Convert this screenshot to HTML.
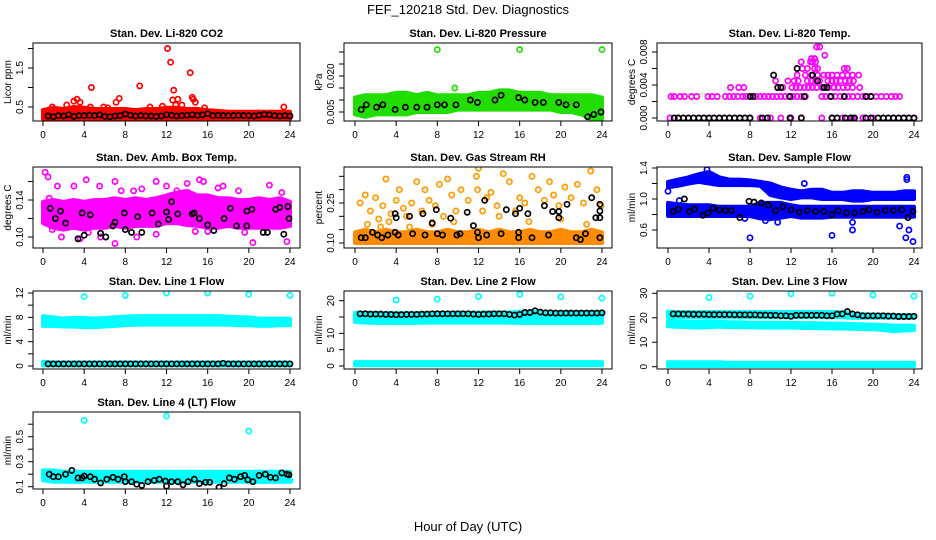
<!DOCTYPE html>
<html><head><meta charset="utf-8"><style>
body{margin:0;background:#fff;}
svg{display:block;font-family:"Liberation Sans",sans-serif;}
</style></head><body>
<svg id="chart" width="936" height="540" viewBox="0 0 936 540">
<rect width="936" height="540" fill="#fff"/>
<text x="468" y="14" text-anchor="middle" font-size="13">FEF_120218  Std. Dev. Diagnostics</text>
<text x="468" y="531" text-anchor="middle" font-size="13">Hour of Day (UTC)</text>
</svg>
<script>
const HOURLY=[0,1,2,3,4,5,6,7,8,9,10,11,12,13,14,15,16,17,18,19,20,21,22,23,24];
const HALF=[0.5,1,1.5,2,2.5,3,3.5,4,4.5,5,5.5,6,6.5,7,7.5,8,8.5,9,9.5,10,10.5,11,11.5,12,12.5,13,13.5,14,14.5,15,15.5,16,16.5,17,17.5,18,18.5,19,19.5,20,20.5,21,21.5,22,22.5,23,23.5,24];
const xTicks=[0,4,8,12,16,20,24];
// CO2
const co2Lo=[0.2,0.2,0.2,0.2,0.2,0.2,0.2,0.2,0.2,0.2,0.2,0.2,0.2,0.2,0.2,0.2,0.2,0.2,0.2,0.2,0.2,0.2,0.2,0.2,0.2];
const co2Hi=[0.42,0.48,0.45,0.5,0.48,0.45,0.45,0.45,0.45,0.42,0.45,0.45,0.48,0.48,0.45,0.45,0.42,0.4,0.38,0.38,0.38,0.38,0.38,0.38,0.38];
const co2OutX=[4.7,9.4,12.1,12.4,14.3,12.7,12.6,13.1,3.3,3.0,3.6,7.4,7.1,14.5,14.6,14.8,2.3,0.9,23.4,5.9,10.4,11.6,13.5,12.9,4.6,6.3,15.7];
const co2OutY=[1.0,1.04,2.0,1.65,1.38,0.93,0.68,0.7,0.7,0.65,0.62,0.72,0.62,0.75,0.7,0.62,0.55,0.5,0.5,0.5,0.5,0.52,0.55,0.55,0.5,0.48,0.48];
const co2Blk=[0.27,0.25,0.28,0.27,0.3,0.26,0.28,0.28,0.29,0.28,0.3,0.26,0.25,0.27,0.28,0.32,0.29,0.27,0.28,0.27,0.27,0.26,0.27,0.3,0.29,0.27,0.28,0.29,0.3,0.29,0.3,0.33,0.28,0.29,0.28,0.28,0.28,0.29,0.28,0.28,0.27,0.29,0.31,0.3,0.28,0.27,0.28,0.27];
// Pressure
const prLo=[0.004,0.003,0.004,0.004,0.004,0.004,0.005,0.005,0.005,0.005,0.006,0.006,0.006,0.006,0.006,0.006,0.006,0.006,0.006,0.006,0.005,0.005,0.004,0.002,0.002];
const prHi=[0.011,0.012,0.012,0.012,0.013,0.013,0.012,0.013,0.012,0.012,0.012,0.012,0.013,0.013,0.014,0.014,0.013,0.013,0.013,0.012,0.012,0.012,0.012,0.012,0.011];
const prOutX=[8,16,24,9.7];
const prOutY=[0.031,0.031,0.031,0.015];
const prBlkX=[0.6,1.1,2.1,2.7,3.9,4.9,6.0,7.0,8.0,8.7,9.8,11.2,11.9,13.6,14.2,15.9,16.5,17.5,18.3,19.8,20.5,21.5,22.6,23.2,23.9];
const prBlkY=[0.006,0.008,0.007,0.008,0.006,0.007,0.007,0.007,0.008,0.008,0.008,0.010,0.009,0.010,0.012,0.011,0.010,0.009,0.009,0.009,0.008,0.008,0.003,0.004,0.005];
// Li-820 temp
const tpX=[0.3,0.6,1.2,1.6,2.3,2.8,3.9,4.3,4.8,5.6,6.0,6.4,6.8,7.3,7.6,8.1,8.6,9,9.4,9.8,10.2,10.6,11,11.4,11.8,12.2,12.6,13,13.4,15,15.4,15.8,16.3,16.8,17.2,17.6,18,18.5,19,19.4,19.8,20.3,20.8,21.3,21.8,22.2,22.6,
6.1,6.9,7.4,10.7,11.2,12.1,12.5,12.9,13.3,13.7,14.1,14.5,15.0,15.3,15.7,16.2,16.6,17.1,17.5,18.0,18.7,
10.5,11.7,12.3,12.7,13.6,14.0,14.4,14.8,15.6,16.0,16.4,16.8,17.3,17.7,18.1,
12.6,13.4,14.0,14.6,15.2,15.6,16.0,16.5,17.0,17.5,18.0,18.6,
13.1,13.6,14.3,14.6,17.2,17.5,13.0,13.9,14.1,14.4,14.0,14.3,14.5,14.8,15.3,
0.2,1,2,3,4,5,6,7,8,9,10,11,12,13,15,16,17,18,19,20,21,22,23,24];
const tpY=[0.0026,0.0026,0.0026,0.0026,0.0026,0.0026,0.0026,0.0026,0.0026,0.0026,0.0026,0.0026,0.0026,0.0026,0.0026,0.0026,0.0026,0.0026,0.0026,0.0026,0.0026,0.0026,0.0026,0.0026,0.0026,0.0026,0.0026,0.0026,0.0026,0.0026,0.0026,0.0026,0.0026,0.0026,0.0026,0.0026,0.0026,0.0026,0.0026,0.0026,0.0026,0.0026,0.0026,0.0026,0.0026,0.0026,0.0026,
0.0037,0.0037,0.0037,0.0037,0.0037,0.0037,0.0037,0.0037,0.0037,0.0037,0.0037,0.0037,0.0037,0.0037,0.0037,0.0037,0.0037,0.0037,0.0037,0.0037,0.0037,
0.0045,0.0045,0.0045,0.0045,0.0045,0.0045,0.0045,0.0045,0.0045,0.0045,0.0045,0.0045,0.0045,0.0045,0.0045,
0.0052,0.0052,0.0052,0.0052,0.0052,0.0052,0.0052,0.0052,0.0052,0.0052,0.0052,0.0052,
0.006,0.006,0.006,0.006,0.006,0.006,0.0068,0.0068,0.0068,0.0068,0.0072,0.0072,0.0086,0.0086,0.0076,
0,0,0,0,0,0,0,0,0,0,0,0,0,0,0,0,0,0,0,0,0,0,0,0];
const tpBlkX=[0.6,1,1.5,2,2.5,3,3.5,4,4.5,5,5.5,6,6.5,7,7.5,8,9.2,9.7,11.9,13,16,16.5,17.3,17.8,18.2,19.3,19.8,20.5,21,21.5,22,22.5,23,23.5,24,8,8.3,11.9,13.3,15.9,17.2,19.3,19.8,10.7,11,15.2,15.5,14.6,10.3,14.1,12.6];
const tpBlkY=[0,0,0,0,0,0,0,0,0,0,0,0,0,0,0,0,0,0,0,0,0,0,0,0,0,0,0,0,0,0,0,0,0,0,0,0.0026,0.0026,0.0026,0.0026,0.0026,0.0026,0.0026,0.0026,0.0037,0.0037,0.0037,0.0037,0.0045,0.0052,0.0052,0.006];
// Amb box temp
const abLo=[0.115,0.11,0.108,0.11,0.108,0.11,0.11,0.112,0.11,0.112,0.112,0.112,0.115,0.115,0.113,0.112,0.11,0.11,0.112,0.11,0.11,0.11,0.11,0.11,0.112];
const abHi=[0.138,0.14,0.138,0.14,0.138,0.14,0.14,0.142,0.14,0.142,0.14,0.142,0.145,0.148,0.15,0.145,0.145,0.142,0.142,0.14,0.14,0.142,0.14,0.142,0.138];
const abOutX=[0.2,0.5,0.6,1.4,3.0,4.2,5.5,7.0,7.6,8.8,9.6,11.0,12.0,13.0,14.0,15.2,15.6,17.0,17.5,19.0,22.0,23.2,1.8,3.6,5.6,7.0,9.1,11.0,16.0,19.6,20.4,23.7,0.9,4.4,14.8];
const abOutY=[0.17,0.165,0.142,0.155,0.155,0.162,0.155,0.16,0.15,0.15,0.152,0.16,0.155,0.15,0.158,0.162,0.16,0.153,0.155,0.15,0.156,0.148,0.1,0.098,0.1,0.093,0.1,0.103,0.106,0.105,0.094,0.095,0.108,0.105,0.106];
const abBlkX=[0.7,1.2,1.7,2.2,3.4,3.8,4.0,4.6,5.6,6.1,6.8,7.0,7.9,8.0,8.6,9.2,9.6,10.6,11.2,12.0,12.2,12.5,13.1,14.5,14.7,15.2,16.0,16.6,17.6,18.2,18.8,19.8,19.8,20.3,21.4,21.8,22.6,23.0,23.4,23.8,23.9];
const abBlkY=[0.131,0.12,0.128,0.115,0.098,0.126,0.102,0.124,0.104,0.1,0.112,0.116,0.126,0.108,0.105,0.122,0.105,0.126,0.114,0.127,0.119,0.138,0.125,0.125,0.126,0.12,0.113,0.107,0.12,0.131,0.112,0.112,0.128,0.13,0.105,0.105,0.13,0.132,0.103,0.133,0.12];
// Gas stream RH
const rhLo=[0.1,0.1,0.1,0.1,0.1,0.1,0.1,0.1,0.1,0.1,0.1,0.1,0.1,0.1,0.1,0.1,0.1,0.1,0.1,0.1,0.1,0.1,0.1,0.1,0.1];
const rhHi=[0.14,0.15,0.14,0.15,0.14,0.14,0.15,0.14,0.14,0.15,0.14,0.14,0.15,0.14,0.15,0.14,0.14,0.15,0.14,0.14,0.15,0.14,0.14,0.15,0.14];
const rhOutX=[0.5,1.0,1.5,2.0,2.3,2.7,3.0,3.5,4.0,4.3,4.7,5.0,5.5,6.0,6.5,6.8,7.2,7.8,8.2,8.6,9.0,9.4,9.8,10.3,11.0,11.8,11.9,12.0,12.4,12.8,13.2,13.8,14.4,15.0,15.6,16.0,16.5,17.2,17.8,18.4,18.9,19.3,19.8,20.4,21.0,21.6,22.2,22.9,23.5,23.9,1.2,3.3,5.3,7.5,9.6,14.0,16.9,20.0,22.5,2.5];
const rhOutY=[0.25,0.28,0.22,0.27,0.19,0.24,0.34,0.21,0.26,0.3,0.23,0.2,0.25,0.33,0.22,0.3,0.26,0.24,0.32,0.2,0.34,0.28,0.22,0.3,0.26,0.35,0.3,0.38,0.22,0.27,0.29,0.24,0.36,0.33,0.22,0.27,0.25,0.35,0.3,0.26,0.33,0.28,0.24,0.31,0.27,0.32,0.25,0.37,0.3,0.24,0.17,0.18,0.16,0.17,0.18,0.2,0.18,0.19,0.17,0.16];
const rhBlkX=[0.6,1.0,1.7,2.2,2.6,3.2,3.9,3.9,4.0,4.2,5.3,5.6,6.6,6.8,7.5,7.9,8.0,8.5,9.3,9.9,10.2,10.9,11.5,11.9,12.0,12.6,12.8,14.2,14.7,15.6,15.9,15.9,16.0,16.8,17.2,18.4,18.8,19.2,19.8,19.8,20.6,21.5,21.9,22.4,23.0,23.8,23.8,23.8,23.8,23.4];
const rhBlkY=[0.12,0.12,0.14,0.13,0.12,0.13,0.14,0.21,0.195,0.13,0.2,0.135,0.21,0.13,0.175,0.225,0.135,0.13,0.193,0.13,0.135,0.215,0.165,0.14,0.12,0.26,0.13,0.135,0.225,0.21,0.14,0.12,0.23,0.21,0.12,0.24,0.13,0.218,0.218,0.195,0.245,0.12,0.113,0.135,0.27,0.245,0.22,0.195,0.12,0.195];
// Sample flow
const sfLo=[0.78,0.78,0.78,0.78,0.78,0.78,0.78,0.78,0.78,0.75,0.74,0.76,0.78,0.76,0.76,0.76,0.77,0.77,0.77,0.77,0.77,0.77,0.77,0.77,0.77];
const sfHi=[0.95,0.93,0.92,0.92,0.92,0.9,0.9,0.9,0.9,0.95,0.95,0.95,0.92,0.9,0.9,0.9,0.9,0.9,0.9,0.9,0.9,0.9,0.9,0.9,0.9];
const sfUpLo=[1.15,1.17,1.2,1.22,1.2,1.18,1.18,1.18,1.18,1.17,1.05,1.02,1.0,1.02,1.02,1.0,1.0,1.0,0.98,0.98,1.0,1.0,1.0,1.0,1.0];
const sfUpHi=[1.22,1.25,1.28,1.32,1.35,1.28,1.25,1.25,1.24,1.22,1.2,1.15,1.12,1.1,1.12,1.12,1.08,1.08,1.1,1.1,1.08,1.08,1.08,1.1,1.1];
const sfOutX=[0.0,8.0,16,18.0,22.6,23.2,23.5,23.9,23.3,23.3,3.8,9.5,10.7,18,7.5,12.3,13.3,1.1];
const sfOutY=[1.1,0.5,0.53,0.6,0.65,0.5,0.6,0.45,1.25,1.28,1.38,0.72,0.7,0.7,0.75,0.8,1.2,0.98];
const sfBlkX=[0.5,1.0,1.6,2.1,2.6,3.4,3.9,4.4,5.0,5.6,6.2,7.0,7.9,8.4,9.1,9.8,10.5,11.2,12.0,12.8,13.6,14.4,15.2,16.0,16.6,17.4,18.2,19.0,19.6,20.4,21.2,22.0,22.8,23.4,23.9];
const sfBlkY=[0.84,0.87,1.0,0.84,0.87,0.79,0.82,0.88,0.86,0.85,0.85,0.76,0.97,0.96,0.95,0.92,0.85,0.9,0.86,0.83,0.85,0.84,0.84,0.8,0.85,0.82,0.82,0.84,0.86,0.83,0.85,0.85,0.86,0.76,0.84];
// Line 1
const l1Lo=[6.6,6.6,6.5,6.5,6.4,6.4,6.5,6.6,6.7,6.8,6.8,6.8,6.8,6.8,6.8,6.8,6.8,6.8,6.8,6.7,6.7,6.6,6.6,6.7,6.7];
const l1Hi=[8.2,8.0,7.8,7.9,7.9,7.8,7.9,8.0,8.1,8.2,8.2,8.2,8.2,8.2,8.2,8.2,8.2,8.2,8.1,8.0,8.0,7.8,7.8,7.8,7.8];
const l1BotLo=[0.1,0.1,0.1,0.1,0.1,0.1,0.1,0.1,0.1,0.1,0.1,0.1,0.1,0.1,0.1,0.1,0.1,0.1,0.1,0.1,0.1,0.1,0.1,0.1,0.1];
const l1BotHi=[0.7,0.6,0.6,0.6,0.6,0.6,0.6,0.6,0.6,0.6,0.6,0.6,0.6,0.6,0.6,0.6,0.6,0.6,0.6,0.6,0.6,0.6,0.6,0.6,0.6];
const l1OutX=[4,8,12,16,20,24];
const l1OutY=[11.4,11.6,12,12,11.8,11.6];
const l1Blk=[0.35,0.35,0.35,0.35,0.35,0.35,0.35,0.35,0.35,0.35,0.35,0.35,0.35,0.35,0.35,0.35,0.35,0.35,0.35,0.35,0.35,0.35,0.35,0.35,0.35,0.35,0.35,0.35,0.35,0.35,0.35,0.35,0.35,0.35,0.45,0.35,0.35,0.35,0.35,0.35,0.35,0.35,0.35,0.35,0.35,0.35,0.35,0.35];
// Line 2
const l2Lo=[13.5,13.3,13.2,13.2,13.2,13.2,13.2,13.3,13.3,13.3,13.3,13.3,13.3,13.3,13.3,13.3,13.2,13.2,13.2,13.2,13.2,13.2,13.2,13.2,13.2];
const l2Hi=[16.3,16.3,16.2,16.2,16.2,16.2,16.2,16.2,16.3,16.3,16.3,16.3,16.4,16.4,16.4,16.4,16.6,16.6,16.6,16.6,16.5,16.5,16.5,16.5,16.5];
const l2BotLo=[0.2,0.2,0.2,0.2,0.2,0.2,0.2,0.2,0.2,0.2,0.2,0.2,0.2,0.2,0.2,0.2,0.2,0.2,0.2,0.2,0.2,0.2,0.2,0.2,0.2];
const l2BotHi=[1.2,1.2,1.2,1.2,1.2,1.2,1.2,1.2,1.2,1.2,1.2,1.2,1.2,1.2,1.2,1.2,1.2,1.2,1.2,1.2,1.2,1.2,1.2,1.2,1.2];
const l2OutX=[4,8,12,16,20,24];
const l2OutY=[20.2,20.5,21.3,22,21.2,20.8];
const l2Blk=[16.0,16.0,15.9,15.9,15.9,15.8,15.8,15.7,15.7,15.8,15.8,15.8,15.9,15.9,16.0,16.0,16.0,16.0,16.0,16.0,16.0,16.0,15.9,15.8,15.9,15.9,16.0,16.0,16.0,15.8,15.6,15.8,16.4,16.4,16.9,16.5,16.3,16.3,16.2,16.2,16.2,16.2,16.2,16.2,16.2,16.2,16.2,16.3];
// Line 3
const l3Lo=[16.5,16.3,16.2,16.0,16.2,16.4,16.2,16.2,16.1,16,16,16,16,15.9,15.8,15.7,15.6,15.6,15.5,15.4,15.3,15.0,14.5,14.8,15.0];
const l3Hi=[18.7,18.5,18.3,18.3,18.5,18.3,18.2,18.2,18.0,18.0,18.0,18.0,18.0,17.8,17.8,17.7,17.6,17.6,17.4,17.3,17.2,17.0,16.8,16.8,16.8];
const l3UpLo=[20.2,20.2,20.2,20.2,20.2,20.2,20.2,20.2,20.2,20.2,20.2,20.2,20.2,20.2,20.2,20.2,20.2,20.2,20.0,20.0,20.0,20.0,20.0,20.0,20.0];
const l3UpHi=[22.5,22.3,22.3,22.3,22.3,22.3,22.3,22.3,22.3,22.3,22.3,22.3,22.3,22.3,22.3,22.3,22.3,22.3,21.5,21.5,21.3,21.3,21.0,21.0,21.0];
const l3BotLo=[0.3,0.3,0.3,0.3,0.3,0.3,0.3,0.3,0.3,0.3,0.3,0.3,0.3,0.3,0.3,0.3,0.3,0.3,0.3,0.3,0.3,0.3,0.3,0.3,0.3];
const l3BotHi=[1.8,1.8,1.8,1.8,1.8,1.8,1.6,1.6,1.6,1.6,1.6,1.6,1.6,1.6,1.6,1.6,1.6,1.6,1.6,1.6,1.6,1.6,1.6,1.6,1.6];
const l3OutX=[4,8,12,16,20,24];
const l3OutY=[28.3,28.8,29.8,30,29.3,28.8];
const l3Blk=[21.6,21.6,21.5,21.5,21.4,21.4,21.4,21.3,21.3,21.3,21.3,21.3,21.2,21.2,21.2,21.2,21.2,21.1,21.1,21.0,21.0,20.8,20.8,20.6,21.0,21.0,21.0,21.0,21.0,21.0,20.8,20.8,21.5,21.6,22.5,21.6,21.2,20.8,20.8,20.8,20.8,20.8,20.7,20.7,20.5,20.5,20.5,20.6];
// Line 4
const l4Lo=[0.15,0.14,0.14,0.14,0.14,0.14,0.14,0.14,0.14,0.14,0.14,0.14,0.14,0.14,0.14,0.14,0.14,0.14,0.14,0.14,0.14,0.14,0.14,0.14,0.14];
const l4Hi=[0.23,0.23,0.22,0.22,0.22,0.22,0.22,0.22,0.22,0.22,0.22,0.22,0.22,0.22,0.22,0.22,0.22,0.22,0.22,0.22,0.22,0.22,0.22,0.22,0.22];
const l4OutX=[4,12,20,24];
const l4OutY=[0.63,0.665,0.545,0.15];
const l4BlkX=[0.6,1.0,1.5,2.2,2.8,3.4,3.8,4.0,4.6,5.0,5.6,6.2,6.8,7.3,7.9,8.0,8.6,9.1,9.6,10.2,10.8,11.3,11.9,12.0,12.5,13.1,13.6,14.1,14.7,15.2,15.8,16.2,17.1,17.6,18.1,18.6,19.2,19.6,19.9,20.4,21.0,21.6,22.1,22.6,23.2,23.7,23.9];
const l4BlkY=[0.2,0.18,0.18,0.2,0.23,0.17,0.17,0.185,0.18,0.16,0.13,0.16,0.175,0.16,0.18,0.14,0.14,0.12,0.11,0.14,0.15,0.16,0.145,0.105,0.14,0.14,0.115,0.14,0.16,0.125,0.135,0.135,0.095,0.125,0.17,0.16,0.18,0.19,0.155,0.14,0.19,0.2,0.175,0.17,0.21,0.2,0.195];

const NS="http://www.w3.org/2000/svg";
const svg=document.getElementById('chart');
const COLS=[{x0:33,x1:300,t0:43,t24:290},{x0:344,x1:612,t0:355,t24:602},{x0:657,x1:922,t0:668,t24:914}];
const ROWS=[{y0:43,y1:121},{y0:167,y1:248},{y0:291,y1:369},{y0:412,y1:489}];
function mk(tag,attrs,parent){const e=document.createElementNS(NS,tag);for(const k in attrs)e.setAttribute(k,attrs[k]);(parent||svg).appendChild(e);return e;}

const panels=[
 {key:'co2',title:'Stan. Dev. Li-820 CO2',yl:'Licor ppm',c:0,r:0,yr:[0.5,107,1.5,68],ticks:[0.5,1,1.5,2],labs:['0.5','','1.5',''],
  bands:[[co2Lo,co2Hi,'#ff0000']],pts:[[co2OutX,co2OutY,'#ff0000'],[HALF,co2Blk,'#000']]},
 {key:'pressure',title:'Stan. Dev. Li-820 Pressure',yl:'kPa',c:1,r:0,yr:[0.005,112,0.020,76],ticks:[0.005,0.010,0.015,0.020,0.025,0.030],labs:['0.005','','','0.020','',''],
  bands:[[prLo,prHi,'#22dd00']],pts:[[prOutX,prOutY,'#22dd00'],[prBlkX,prBlkY,'#000']]},
 {key:'li-temp',title:'Stan. Dev. Li-820 Temp.',yl:'degrees C',c:2,r:0,yr:[0,118,0.008,52],ticks:[0,0.002,0.004,0.006,0.008],labs:['0.000','','0.004','','0.008'],
  bands:[],pts:[[tpX,tpY,'#ff00ff'],[tpBlkX,tpBlkY,'#000']]},
 {key:'amb-temp',title:'Stan. Dev. Amb. Box Temp.',yl:'degrees C',c:0,r:1,yr:[0.10,237,0.14,200],ticks:[0.10,0.12,0.14,0.16],labs:['0.10','','0.14',''],
  bands:[[abLo,abHi,'#ff00ff']],pts:[[abOutX,abOutY,'#ff00ff'],[abBlkX,abBlkY,'#000']]},
 {key:'gas-rh',title:'Stan. Dev. Gas Stream RH',yl:'percent',c:1,r:1,yr:[0.10,243,0.25,203],ticks:[0.10,0.15,0.20,0.25,0.30,0.35],labs:['0.10','','','0.25','',''],
  bands:[[rhLo,rhHi,'#ff8c00']],pts:[[rhOutX,rhOutY,'#ff9a00'],[rhBlkX,rhBlkY,'#000']]},
 {key:'sample-flow',title:'Stan. Dev. Sample Flow',yl:'ml/min',c:2,r:1,yr:[0.6,230,1.4,168],ticks:[0.6,0.8,1.0,1.2,1.4],labs:['0.6','','1.0','','1.4'],
  bands:[[sfLo,sfHi,'#0000ff'],[sfUpLo,sfUpHi,'#0000ff']],pts:[[sfOutX,sfOutY,'#0000ff'],[sfBlkX,sfBlkY,'#000']]},
 {key:'line1',title:'Stan. Dev. Line 1 Flow',yl:'ml/min',c:0,r:2,yr:[0,366,12,293],ticks:[0,2,4,6,8,10,12],labs:['0','','4','','8','','12'],
  bands:[[l1Lo,l1Hi,'#00ffff'],[l1BotLo,l1BotHi,'#00ffff']],pts:[[l1OutX,l1OutY,'#00ffff'],[HALF,l1Blk,'#000']]},
 {key:'line2',title:'Stan. Dev. Line 2 Flow',yl:'ml/min',c:1,r:2,yr:[0,366,20,300.7],ticks:[0,5,10,15,20],labs:['0','5','10','','20'],
  bands:[[l2Lo,l2Hi,'#00ffff'],[l2BotLo,l2BotHi,'#00ffff']],pts:[[l2OutX,l2OutY,'#00ffff'],[HALF,l2Blk,'#000']]},
 {key:'line3',title:'Stan. Dev. Line 3 Flow',yl:'ml/min',c:2,r:2,yr:[0,366.7,30,293.3],ticks:[0,10,20,30],labs:['0','10','20','30'],
  bands:[[l3Lo,l3Hi,'#00ffff'],[l3UpLo,l3UpHi,'#00ffff'],[l3BotLo,l3BotHi,'#00ffff']],pts:[[l3OutX,l3OutY,'#00ffff'],[HALF,l3Blk,'#000']]},
 {key:'line4',title:'Stan. Dev. Line 4 (LT) Flow',yl:'ml/min',c:0,r:3,yr:[0.1,486.7,0.5,436.7],ticks:[0.1,0.2,0.3,0.4,0.5,0.6],labs:['0.1','','0.3','','0.5',''],
  bands:[[l4Lo,l4Hi,'#00ffff']],pts:[[l4OutX,l4OutY,'#00ffff'],[l4BlkX,l4BlkY,'#000']]}
];

panels.forEach(p=>{
  const C=COLS[p.c],R=ROWS[p.r];
  const xs=h=>C.t0+h*(C.t24-C.t0)/24;
  const ys=v=>p.yr[1]+(v-p.yr[0])*(p.yr[3]-p.yr[1])/(p.yr[2]-p.yr[0]);
  const g=mk('g',{});
  
  
  const cid='clip-'+p.key;
  const cp=mk('clipPath',{id:cid},g);mk('rect',{x:C.x0,y:R.y0,width:C.x1-C.x0,height:R.y1-R.y0},cp);
  const plot=mk('g',{'clip-path':'url(#'+cid+')'},g);
  
  
  p.bands.forEach(b=>{
    const [lo,hi,col]=b;
    let d='';
    HOURLY.forEach((h,i)=>{d+=(i?'L':'M')+xs(h).toFixed(1)+','+ys(hi[i]).toFixed(1);});
    for(let i=HOURLY.length-1;i>=0;i--)d+='L'+xs(HOURLY[i]).toFixed(1)+','+ys(lo[i]).toFixed(1);
    const e=mk('path',{d:d+'Z',fill:col,stroke:col,'stroke-width':4,'stroke-linejoin':'round'},plot);
    
    
  });
  p.pts.forEach(s=>{
    const [X,Y,col]=s;
    const n=Math.min(X.length,Y.length);
    for(let i=0;i<n;i++){
      const e=mk('circle',{cx:xs(X[i]).toFixed(1),cy:ys(Y[i]).toFixed(1),r:2.6,fill:'none',stroke:col,'stroke-width':1.7},plot);
      
      
    }
  });
  const box=mk('rect',{x:C.x0,y:R.y0,width:C.x1-C.x0,height:R.y1-R.y0,fill:'none',stroke:'#000','stroke-width':1},g);
  
  
  const t=mk('text',{x:(C.x0+C.x1)/2,y:R.y0-6,'text-anchor':'middle','font-size':11,'font-weight':'bold'},g);
  t.textContent=p.title;
  
  
  xTicks.forEach(h=>{
    const x=xs(h);
    mk('line',{x1:x,x2:x,y1:R.y1,y2:R.y1+5,stroke:'#000'},g);
    const l=mk('text',{x:x,y:R.y1+17,'text-anchor':'middle','font-size':10},g);
    l.textContent=h;
    
    
  });
  p.ticks.forEach((v,i)=>{
    const y=ys(v);
    mk('line',{x1:C.x0-5,x2:C.x0,y1:y,y2:y,stroke:'#000'},g);
    if(p.labs[i]){
      const l=mk('text',{x:C.x0-10,y:y,'text-anchor':'middle','font-size':10,transform:'rotate(-90 '+(C.x0-10)+' '+y+')'},g);
      l.textContent=p.labs[i];
      
      
    }
  });
  const ym=(R.y0+R.y1)/2,yx=C.x0-22;
  const yl=mk('text',{x:yx,y:ym,'text-anchor':'middle','font-size':10,transform:'rotate(-90 '+yx+' '+ym+')'},g);
  yl.textContent=p.yl;
  
  
});
</script>
</body></html>
